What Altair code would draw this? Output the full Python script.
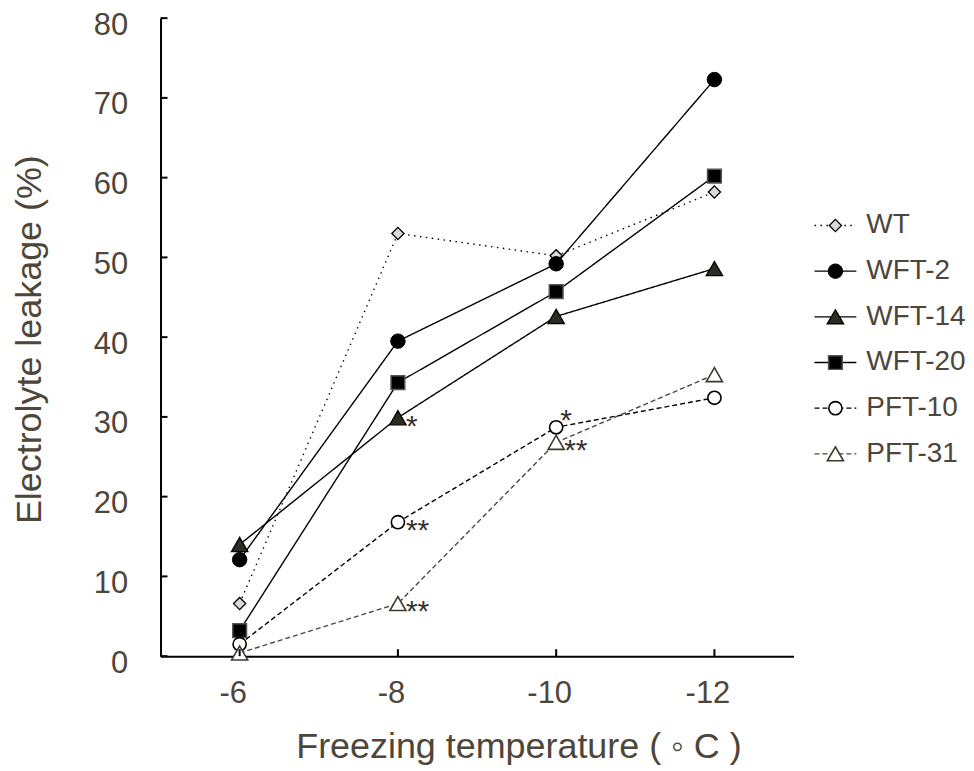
import altair as alt
import pandas as pd

# ---------------- data ----------------
temps = ["-6", "-8", "-10", "-12"]
series = ["WT", "WFT-2", "WFT-14", "WFT-20", "PFT-10", "PFT-31"]
wt = [6.6, 53.0, 50.2, 58.2]
wft2 = [12.1, 39.5, 49.2, 72.3]
wft14 = [14.0, 29.9, 42.6, 48.6]
wft20 = [3.2, 34.3, 45.7, 60.2]
pft10 = [1.5, 16.8, 28.7, 32.4]
pft31 = [0.4, 6.6, 26.8, 35.3]
values = {"WT": wt, "WFT-2": wft2, "WFT-14": wft14, "WFT-20": wft20,
          "PFT-10": pft10, "PFT-31": pft31}
y_ticks = [0, 10, 20, 30, 40, 50, 60, 70, 80]

ann_series = ["WFT-14", "PFT-10", "PFT-31", "PFT-10", "PFT-31"]
ann_temp = ["-8", "-8", "-8", "-10", "-10"]
ann_label = ["*", "**", "**", "*", "**"]
ann_pos = ["right", "right", "right", "above", "right"]

# ---------------- styles ----------------
TXT = "#4d4639"
FONT = "Liberation Sans"
styles = {
    "WT": dict(color="#000000", dash=[1.5, 4.5], shape="diamond", fill="#d9d9d9",
               stroke="#000000", size=150, sw=1.3),
    "WFT-2": dict(color="#000000", dash=[1, 0], shape="circle", fill="#000000",
                  stroke="#000000", size=210, sw=1),
    "WFT-14": dict(color="#000000", dash=[1, 0], shape="triangle-up", fill="#2e2b24",
                   stroke="#000000", size=270, sw=1.3),
    "WFT-20": dict(color="#000000", dash=[1, 0], shape="square", fill="#000000",
                   stroke="#555555", size=190, sw=1.5),
    "PFT-10": dict(color="#000000", dash=[5, 3], shape="circle", fill="#ffffff",
                   stroke="#000000", size=175, sw=1.6),
    "PFT-31": dict(color="#4a4840", dash=[5, 3], shape="triangle-up", fill="#ffffff",
                   stroke="#3f3a2e", size=260, sw=1.6),
}

W, H = 635, 640

xenc = alt.X("temp:O", sort=temps,
             scale=alt.Scale(type="point", domain=temps, padding=0.5),
             axis=alt.Axis(title="Freezing temperature ( \u25e6 C )", labelAngle=0,
                           labelPadding=22, labelBaseline="top", labelOffset=-7,
                           titleX=359, titleY=102, titleBaseline="alphabetic",
                           titleAlign="center"))
yenc = alt.Y("v:Q", scale=alt.Scale(domain=[0, 80], nice=False),
             axis=alt.Axis(title="Electrolyte leakage (%)", values=y_ticks,
                           labelPadding=33, labelOffset=7, labelBaseline="middle",
                           titleX=-120, titleY=322, titleBaseline="alphabetic",
                           titleAlign="center", titleAngle=270))

lines, points = [], []
for s in series:
    st = styles[s]
    df = pd.DataFrame({"temp": temps, "v": values[s], "s": s})
    lines.append(alt.Chart(df).mark_line(color=st["color"], strokeWidth=1.4,
                                         strokeDash=st["dash"]).encode(x=xenc, y=yenc))
    points.append(alt.Chart(df).mark_point(shape=st["shape"], size=st["size"],
                                           filled=True, fill=st["fill"], stroke=st["stroke"],
                                           strokeWidth=st["sw"], opacity=1)
                  .encode(x=xenc, y=yenc))

ann_df = pd.DataFrame({
    "temp": ann_temp,
    "v": [values[s][temps.index(t)] for s, t in zip(ann_series, ann_temp)],
    "label": ann_label,
    "pos": ann_pos,
})
ann_right = alt.Chart(ann_df).transform_filter(alt.datum.pos == "right").mark_text(
    align="left", baseline="alphabetic", dx=8, dy=18, fontSize=30, font=FONT,
    color="#333333").encode(x=xenc, y=yenc, text="label:N")
ann_above = alt.Chart(ann_df).transform_filter(alt.datum.pos == "above").mark_text(
    align="left", baseline="alphabetic", dx=4, dy=3, fontSize=30, font=FONT,
    color="#333333").encode(x=xenc, y=yenc, text="label:N")

ytick_df = pd.DataFrame({"v": y_ticks})
ytick_rules = alt.Chart(ytick_df).mark_rule(color="black", strokeWidth=2).encode(
    y=yenc, x=alt.value(0), x2=alt.value(7))
xtick_df = pd.DataFrame({"temp": temps})
xtick_rules = alt.Chart(xtick_df).mark_rule(color="black", strokeWidth=2).encode(
    x=xenc, y=alt.value(H), y2=alt.value(H - 7))

main = alt.layer(*lines, *points, ann_right, ann_above, ytick_rules, xtick_rules).properties(
    width=W, height=H)

# ---------------- legend panel ----------------
lx = alt.X("x:Q", scale=alt.Scale(domain=[0, 1], nice=False, zero=False), axis=None)
ly = alt.Y("r:Q", scale=alt.Scale(domain=[-4.54, 9.43], nice=False, zero=False,
                                  reverse=True), axis=None)
leg_layers = []
for i, s in enumerate(series):
    st = styles[s]
    seg = pd.DataFrame({"s": [s, s], "r": [i, i], "x": [0, 1]})
    mid = pd.DataFrame({"s": [s], "r": [i], "x": [0.5]})
    end = pd.DataFrame({"s": [s], "r": [i], "x": [1]})
    leg_layers.append(alt.Chart(seg).mark_line(color=st["color"], strokeWidth=1.4,
                                               strokeDash=st["dash"]).encode(x=lx, y=ly))
    leg_layers.append(alt.Chart(mid).mark_point(shape=st["shape"], size=st["size"],
                                                filled=True, fill=st["fill"], stroke=st["stroke"],
                                                strokeWidth=st["sw"], opacity=1)
                      .encode(x=lx, y=ly))
    leg_layers.append(alt.Chart(end).mark_text(align="left", baseline="middle", dx=10,
                                               fontSize=28, font=FONT, color=TXT)
                      .encode(x=lx, y=ly, text="s:N"))
legend = alt.layer(*leg_layers).properties(width=42, height=H)

chart = alt.hconcat(main, legend, spacing=18).properties(
    padding={"left": 4, "top": 0, "right": 0, "bottom": 0}
).configure_view(stroke=None).configure_axis(
    labelFont=FONT, titleFont=FONT, labelFontSize=31, titleFontSize=36,
    labelColor=TXT, titleColor=TXT, titleFontWeight="normal",
    domainColor="black", domainWidth=2, ticks=False, grid=False
)

chart.save("out.html", embed_options={"renderer": "svg", "actions": False})
